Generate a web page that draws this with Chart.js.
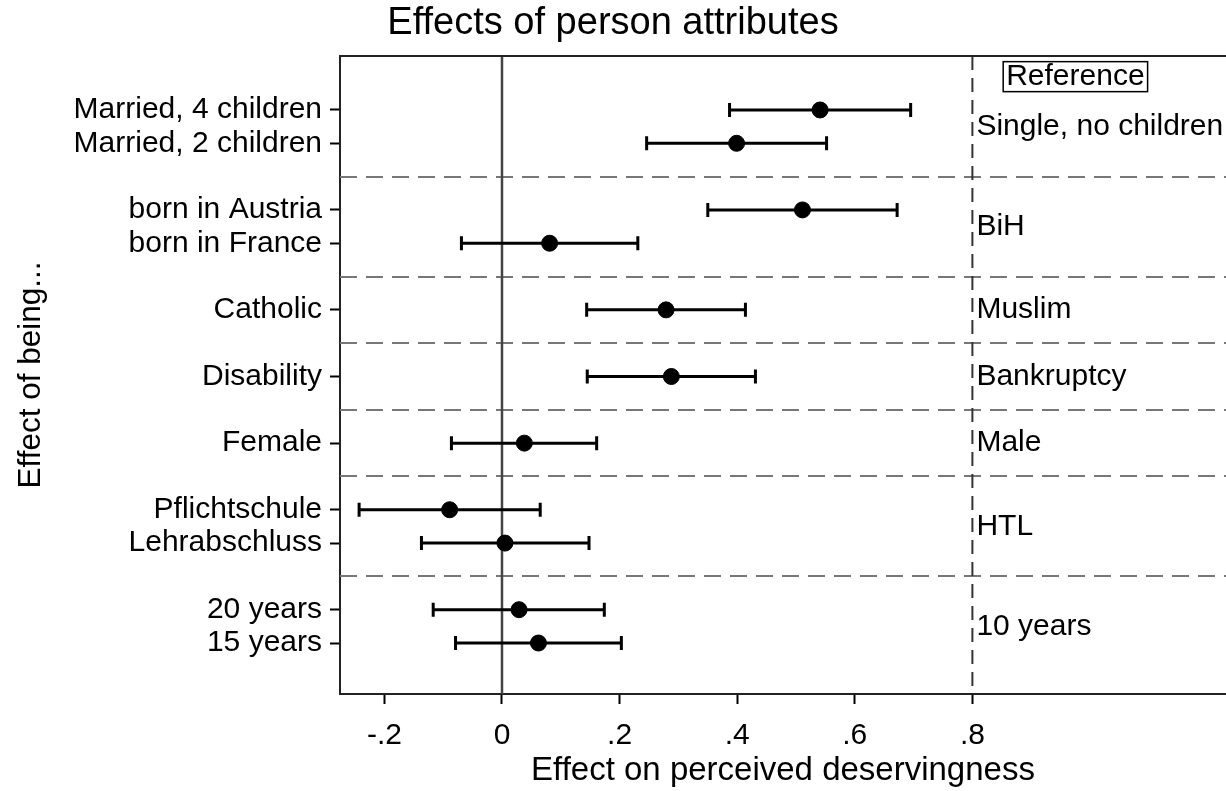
<!DOCTYPE html>
<html>
<head>
<meta charset="utf-8">
<script src="https://cdn.jsdelivr.net/npm/chart.js@4"></script>
<style>
  html, body { margin: 0; padding: 0; background: #fff; }
  #wrap { width: 1226px; height: 791px; }
</style>
</head>
<body>
<div id="wrap"><canvas id="myChart"></canvas></div>
<script>
// coefficient plot data
const rowLabels = ['Married, 4 children', 'Married, 2 children', 'born in Austria', 'born in France',
    'Catholic', 'Disability', 'Female', 'Pflichtschule', 'Lehrabschluss', '20 years', '15 years'];
const rowPos = [0, 1, 3, 4, 6, 8, 10, 12, 13, 15, 16];
const estimates = [0.541, 0.399, 0.511, 0.081, 0.279, 0.288, 0.038, -0.089, 0.005, 0.029, 0.062];
const ciLow = [0.387, 0.246, 0.350, -0.069, 0.144, 0.145, -0.086, -0.243, -0.137, -0.117, -0.079];
const ciHigh = [0.695, 0.552, 0.672, 0.231, 0.414, 0.431, 0.161, 0.065, 0.148, 0.174, 0.203];
const groupBreaks = [2, 5, 7, 9, 11, 14];
const refLabels = ['Single, no children', 'BiH', 'Muslim', 'Bankruptcy', 'Male', 'HTL', '10 years'];
const refPos = [0.5, 3.5, 6, 8, 10, 12.5, 15.5];
const xTicks = [-0.2, 0, 0.2, 0.4, 0.6, 0.8];
const refLine = 0.8;

const FONT = "'Liberation Sans', Arial, sans-serif";

function fmtTick(v) {
    if (Math.abs(v) < 1e-9) return '0';
    return v.toFixed(1).replace('0.', '.');
}

const coefPlugin = {
    id: 'coefPlugin',
    beforeDatasetsDraw(chart) {
        const ctx = chart.ctx;
        const area = chart.chartArea;
        const xs = chart.scales.x;
        const ys = chart.scales.y;
        ctx.save();

        // group separators
        ctx.strokeStyle = '#777';
        ctx.lineWidth = 2;
        ctx.setLineDash([17, 9]);
        groupBreaks.forEach(function (b) {
            const y = Math.round(ys.getPixelForValue(b));
            ctx.beginPath();
            ctx.moveTo(area.left, y);
            ctx.lineTo(area.right, y);
            ctx.stroke();
        });

        // zero line
        ctx.setLineDash([]);
        ctx.strokeStyle = '#444';
        ctx.lineWidth = 2.5;
        let x0 = xs.getPixelForValue(0);
        ctx.beginPath();
        ctx.moveTo(x0, area.top);
        ctx.lineTo(x0, area.bottom);
        ctx.stroke();

        // reference line
        ctx.strokeStyle = '#333';
        ctx.lineWidth = 2;
        ctx.setLineDash([14, 8]);
        let xr = xs.getPixelForValue(refLine);
        ctx.beginPath();
        ctx.moveTo(xr, area.top);
        ctx.lineTo(xr, area.bottom);
        ctx.stroke();
        ctx.setLineDash([]);

        // top frame
        ctx.strokeStyle = '#222';
        ctx.lineWidth = 2;
        ctx.beginPath();
        ctx.moveTo(area.left, area.top);
        ctx.lineTo(area.right, area.top);
        ctx.stroke();

        // confidence intervals
        ctx.strokeStyle = '#000';
        ctx.lineWidth = 3;
        for (let i = 0; i < rowPos.length; i++) {
            const y = ys.getPixelForValue(rowPos[i]);
            const xl = xs.getPixelForValue(ciLow[i]);
            const xh = xs.getPixelForValue(ciHigh[i]);
            ctx.beginPath();
            ctx.moveTo(xl, y);
            ctx.lineTo(xh, y);
            ctx.moveTo(xl, y - 7);
            ctx.lineTo(xl, y + 7);
            ctx.moveTo(xh, y - 7);
            ctx.lineTo(xh, y + 7);
            ctx.stroke();
        }

        // reference categories on the right
        ctx.fillStyle = '#000';
        ctx.font = '30px ' + FONT;
        ctx.textAlign = 'left';
        ctx.textBaseline = 'middle';
        for (let i = 0; i < refLabels.length; i++) {
            ctx.fillText(refLabels[i], xr + 4, ys.getPixelForValue(refPos[i]));
        }

        // boxed header
        const hy = ys.getPixelForValue(-1);
        const hx = xr + 103;
        ctx.textAlign = 'center';
        ctx.fillText('Reference', hx, hy);
        const w = ctx.measureText('Reference').width;
        ctx.lineWidth = 1.5;
        ctx.strokeRect(hx - w / 2 - 3, hy - 15, w + 6, 30);

        ctx.restore();
    }
};

function drawChart() {
    const ctx = document.getElementById('myChart').getContext('2d');
    new Chart(ctx, {
        type: 'scatter',
        data: {
            datasets: [{
                data: estimates.map(function (e, i) { return {x: e, y: rowPos[i]}; }),
                backgroundColor: '#000',
                borderColor: '#000',
                pointRadius: 8,
                pointHoverRadius: 8
            }]
        },
        options: {
            responsive: true,
            maintainAspectRatio: false,
            animation: false,
            events: [],
            layout: { padding: 0, autoPadding: false },
            plugins: {
                legend: { display: false },
                tooltip: { enabled: false },
                title: {
                    display: true,
                    text: 'Effects of person attributes',
                    color: '#000',
                    font: { family: FONT, size: 38, weight: 'normal', lineHeight: 1 },
                    padding: { top: 5, bottom: 13 }
                }
            },
            scales: {
                x: {
                    type: 'linear',
                    min: -0.2755,
                    max: 1.2313,
                    afterBuildTicks: function (scale) {
                        scale.ticks = xTicks.map(function (v) { return {value: v}; });
                    },
                    afterFit: function (scale) {
                        scale.height = 97;
                        scale.paddingLeft = 0;
                        scale.paddingRight = 0;
                    },
                    ticks: {
                        autoSkip: false,
                        maxRotation: 0,
                        color: '#000',
                        padding: 14,
                        font: { family: FONT, size: 30 },
                        callback: function (v) { return fmtTick(v); }
                    },
                    grid: {
                        drawOnChartArea: false,
                        tickLength: 10,
                        tickColor: '#000',
                        tickWidth: 2
                    },
                    border: { display: true, color: '#222', width: 2 },
                    title: {
                        display: true,
                        text: 'Effect on perceived deservingness',
                        color: '#000',
                        font: { family: FONT, size: 33 },
                        padding: { top: 0, bottom: 0 }
                    }
                },
                y: {
                    type: 'linear',
                    reverse: true,
                    min: -1.62,
                    max: 17.53,
                    afterBuildTicks: function (scale) {
                        scale.ticks = rowPos.map(function (v) { return {value: v}; });
                    },
                    afterFit: function (scale) { scale.width = 340; },
                    ticks: {
                        autoSkip: false,
                        color: '#000',
                        padding: 8,
                        font: { family: FONT, size: 30 },
                        callback: function (v) {
                            const i = rowPos.indexOf(v);
                            return i >= 0 ? rowLabels[i] : '';
                        }
                    },
                    grid: {
                        drawOnChartArea: false,
                        tickLength: 10,
                        tickColor: '#000',
                        tickWidth: 2
                    },
                    border: { display: true, color: '#222', width: 2 },
                    title: {
                        display: true,
                        text: 'Effect of being...',
                        color: '#000',
                        font: { family: FONT, size: 31.5 },
                        padding: { top: 12, bottom: 0 }
                    }
                }
            }
        },
        plugins: [coefPlugin]
    });
}

drawChart();
</script>
</body>
</html>
